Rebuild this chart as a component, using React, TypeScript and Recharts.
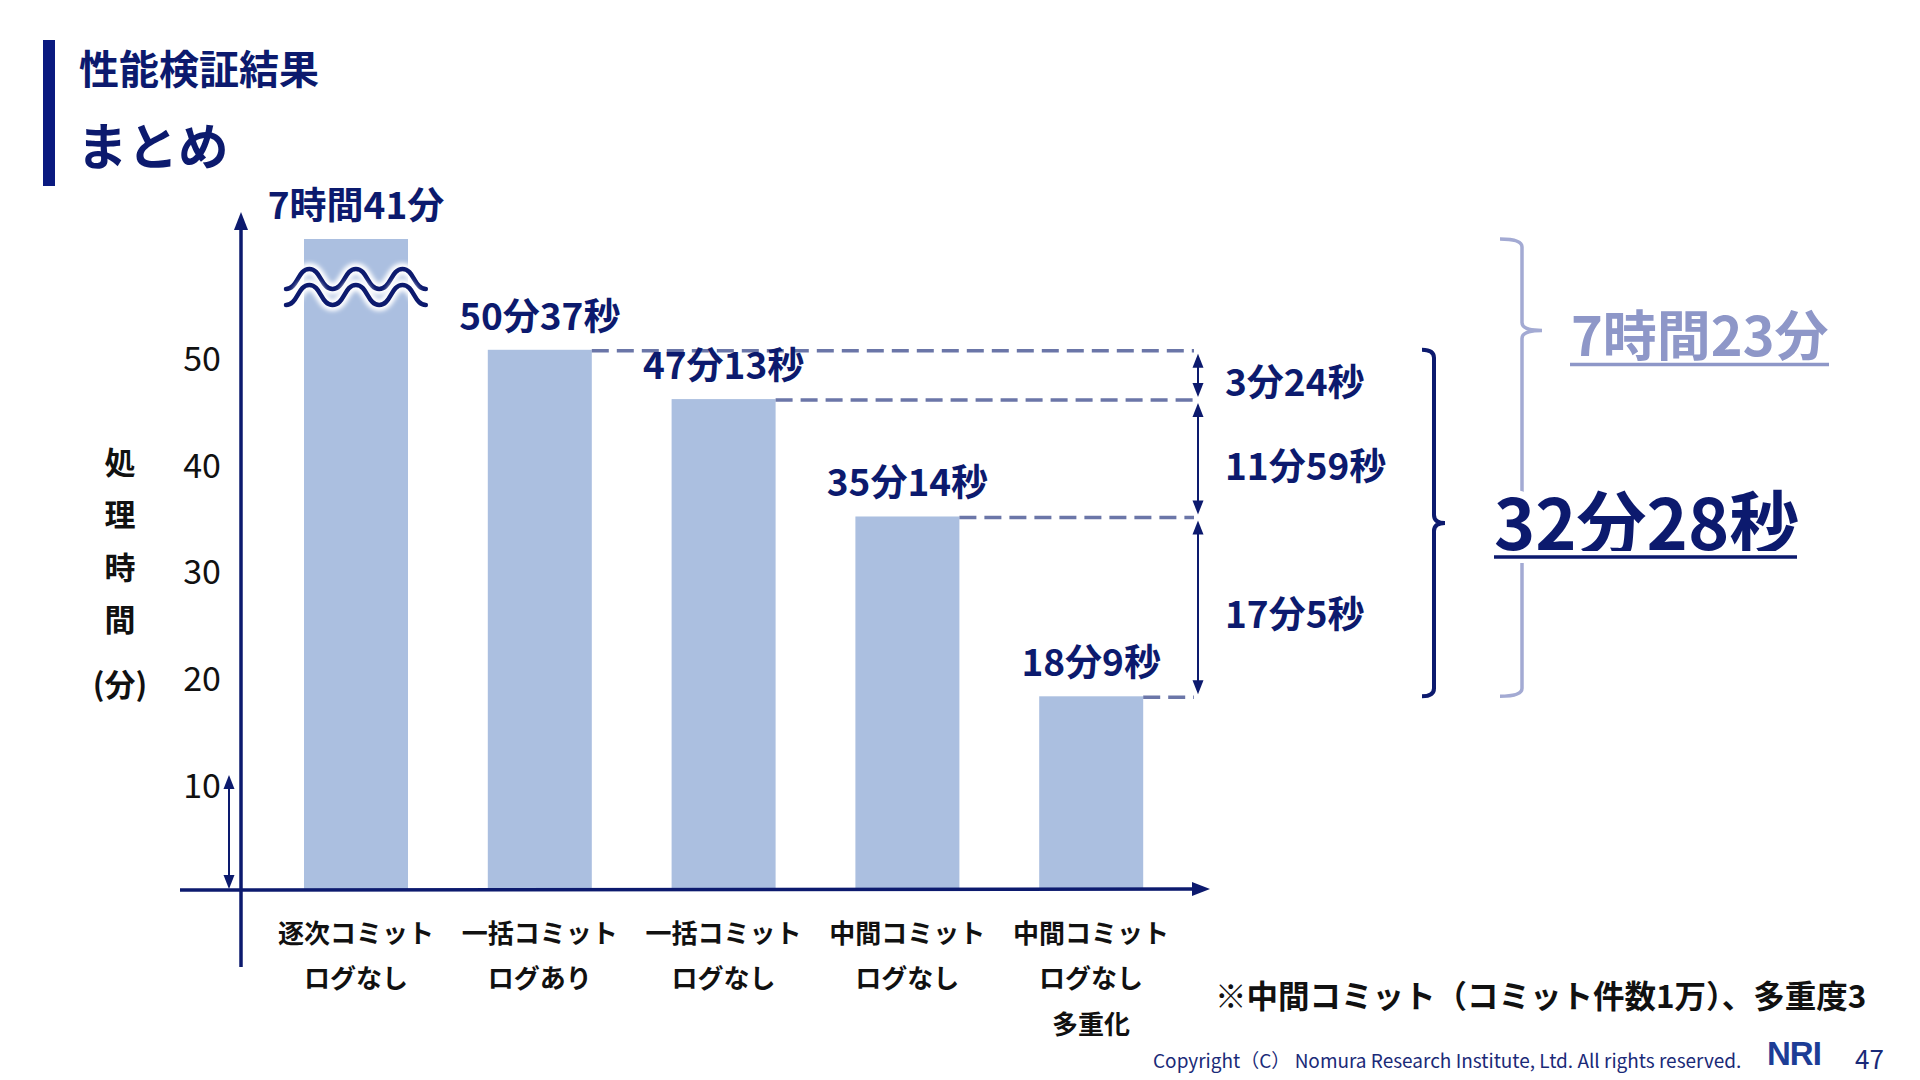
import React from 'react';
import { BarChart, Bar, XAxis, YAxis, LabelList } from 'recharts';

const categories = [
  '逐次コミット\nログなし',
  '一括コミット\nログあり',
  '一括コミット\nログなし',
  '中間コミット\nログなし',
  '中間コミット\nログなし\n多重化',
];
// minutes as printed on the slide
const actualMinutes = [461, 50.62, 47.22, 35.23, 18.15];
// bar heights as drawn on the slide (first bar is cut by the wave break)
const drawnMinutes = [61, 50.62, 46.0, 35.0, 18.15];
const valueLabels = ['7時間41分', '50分37秒', '47分13秒', '35分14秒', '18分9秒'];
const diffLabels = ['3分24秒', '11分59秒', '17分5秒'];
const totalLabels = ['7時間23分', '32分28秒'];
const yTicks = [10, 20, 30, 40, 50];

const data = categories.map((name, i) => ({
  name,
  value: drawnMinutes[i],
  actual: actualMinutes[i],
  label: valueLabels[i],
}));

const FONT = "'Noto Sans CJK JP', 'Noto Sans', sans-serif";
const NAVY = '#0c1a6e';
const BAR = '#abbfe0';
const DASH = '#6b76a8';
const LIGHT = '#8e97c8';
const ARROW_X = 1198;
const DARK_BRACKET_X = 1434;
const LIGHT_BRACKET_X = 1522;

const VArrow = ({ x, y1, y2, color = NAVY }: any) => {
  const hw = 5.5;
  const hl = 14;
  return (
    <g>
      <line x1={x} y1={y1 + hl - 1} x2={x} y2={y2 - hl + 1} stroke={color} strokeWidth={2} />
      <polygon points={`${x},${y1} ${x - hw},${y1 + hl} ${x + hw},${y1 + hl}`} fill={color} />
      <polygon points={`${x},${y2} ${x - hw},${y2 - hl} ${x + hw},${y2 - hl}`} fill={color} />
    </g>
  );
};

const wavePath = (x0: number, yT: number, amp: number, half: number, n: number) => {
  let d = `M ${x0} ${yT} C ${x0 + half / 2} ${yT} ${x0 + half / 2} ${yT - amp} ${x0 + half} ${yT - amp}`;
  for (let i = 2; i <= n; i++) {
    const yEnd = i % 2 === 0 ? yT : yT - amp;
    d += ` S ${x0 + half * (i - 0.5)} ${yEnd} ${x0 + half * i} ${yEnd}`;
  }
  return d;
};

const bracketPath = (bx: number, y1: number, y2: number, mid: number, hook: number, tick: number) =>
  `M ${bx - hook} ${y1} Q ${bx} ${y1} ${bx} ${y1 + 8} L ${bx} ${mid - 8} Q ${bx} ${mid} ${bx + tick} ${mid} ` +
  `Q ${bx} ${mid} ${bx} ${mid + 8} L ${bx} ${y2 - 8} Q ${bx} ${y2} ${bx - hook} ${y2}`;

const BarShape = (props: any) => {
  const { x, y, width, height, index } = props;
  const base = y + height;
  const k = height / drawnMinutes[index];
  const yOf = (v: number) => base - v * k;
  const cx = x + width / 2;

  return (
    <g>
      <rect x={x} y={y} width={width} height={height} fill={BAR} />
      {index === 0 && (
        <g>
          <defs>
            <filter id="glow" x="-20%" y="-50%" width="140%" height="200%">
              <feGaussianBlur stdDeviation="2" />
            </filter>
          </defs>
          {[0, 16].map((off) => (
            <g key={off}>
              <path d={wavePath(cx - 70, y + 50 + off, 20, 23.3, 6)} fill="none" stroke="#fff" strokeWidth={12} filter="url(#glow)" />
              <path d={wavePath(cx - 70, y + 50 + off, 20, 23.3, 6)} fill="none" stroke={NAVY} strokeWidth={4.5} strokeLinecap="round" />
            </g>
          ))}
        </g>
      )}
      {index >= 1 && (
        <line x1={x + width} y1={y + 1} x2={ARROW_X - 4} y2={y + 1} stroke={DASH} strokeWidth={3.5} strokeDasharray="17 8" />
      )}
      {index >= 2 && (
        <g>
          <VArrow x={ARROW_X} y1={yOf(drawnMinutes[index - 1]) + 4} y2={y - 2} />
          <text
            x={1225}
            y={(yOf(drawnMinutes[index - 1]) + y) / 2 + 6}
            fontSize={37}
            fontWeight={700}
            fill={NAVY}
            fontFamily={FONT}
            dominantBaseline="central"
          >
            {diffLabels[index - 2]}
          </text>
        </g>
      )}
      {index === 4 && (() => {
        const lTop = yOf(drawnMinutes[0]);
        const lMid = lTop + (y - lTop) * 0.2;
        const dTop = yOf(drawnMinutes[1]);
        const dMid = (dTop + y) / 2;
        return (
          <g>
            <path d={bracketPath(LIGHT_BRACKET_X, lTop, y, lMid, 22, 20)} fill="none" stroke="#a3aad3" strokeWidth={3.5} />
            <text x={1571} y={lMid + 2} fontSize={54} fontWeight={700} fill={LIGHT} fontFamily={FONT} dominantBaseline="central">
              {totalLabels[0]}
            </text>
            <line x1={1570} y1={lMid + 34} x2={1829} y2={lMid + 34} stroke={LIGHT} strokeWidth={3.5} />
            <path d={bracketPath(DARK_BRACKET_X, dTop, y, dMid, 12, 11)} fill="none" stroke={NAVY} strokeWidth={4} />
            <text
              x={1494}
              y={dMid - 4}
              fontSize={70}
              fontWeight={700}
              fill={NAVY}
              fontFamily={FONT}
              dominantBaseline="central"
              stroke="#fff"
              strokeWidth={14}
              paintOrder="stroke"
              strokeLinejoin="round"
            >
              {totalLabels[1]}
            </text>
            <line x1={1494} y1={dMid + 34} x2={1797} y2={dMid + 34} stroke="#fff" strokeWidth={12} />
            <line x1={1494} y1={dMid + 34} x2={1797} y2={dMid + 34} stroke={NAVY} strokeWidth={3.5} />
          </g>
        );
      })()}
    </g>
  );
};

const ValueLabel = (props: any) => {
  const { x, y, width, value } = props;
  return (
    <text
      x={x + width / 2}
      y={y - 36}
      textAnchor="middle"
      dominantBaseline="central"
      fontSize={37}
      fontWeight={700}
      fill={NAVY}
      fontFamily={FONT}
    >
      {value}
    </text>
  );
};

const XTick = (props: any) => {
  const { x, y, payload } = props;
  const lines = String(payload.value).split('\n');
  return (
    <g>
      {lines.map((t, i) => (
        <text
          key={i}
          x={x}
          y={y + 41 + i * 45.5}
          textAnchor="middle"
          dominantBaseline="central"
          fontSize={26}
          fontWeight={700}
          fill="#111"
          fontFamily={FONT}
        >
          {t}
        </text>
      ))}
    </g>
  );
};

const YTick = (props: any) => {
  const { x, y, payload } = props;
  return (
    <text x={x - 62} y={y} textAnchor="middle" dominantBaseline="central" fontSize={34} fill="#111" fontFamily={FONT}>
      {payload.value}
    </text>
  );
};

const yLabelChars = ['処', '理', '時', '間'];

export default function App() {
  return (
    <div style={{ position: 'absolute', left: 0, top: 0, width: 1920, height: 1080, background: '#fff', overflow: 'hidden' }}>
      <BarChart
        width={1920}
        height={1080}
        data={data}
        margin={{ top: 207, right: 737, bottom: 40, left: 204 }}
        style={{ position: 'absolute', left: 0, top: 0 }}
      >
        <XAxis dataKey="name" height={150} tickSize={0} tickMargin={0} axisLine={false} tickLine={false} tick={<XTick />} interval={0} />
        <YAxis
          width={60}
          domain={[0, 64]}
          ticks={yTicks}
          tickSize={0}
          tickMargin={0}
          axisLine={false}
          tickLine={false}
          tick={<YTick />}
        />
        <Bar dataKey="value" barSize={104} isAnimationActive={false} shape={<BarShape />}>
          <LabelList dataKey="label" content={<ValueLabel />} />
        </Bar>
      </BarChart>

      <svg width={1920} height={1080} style={{ position: 'absolute', left: 0, top: 0, pointerEvents: 'none' }}>
        {/* title */}
        <rect x={43} y={40} width={12} height={146} fill="#0a1a80" />
        <text x={79} y={67} fontSize={40} fontWeight={700} fill={NAVY} fontFamily={FONT} dominantBaseline="central">
          性能検証結果
        </text>
        <text x={77} y={143} fontSize={50.5} fontWeight={700} fill={NAVY} fontFamily={FONT} dominantBaseline="central">
          まとめ
        </text>

        {/* axes */}
        <line x1={241} y1={967} x2={241} y2={224} stroke={NAVY} strokeWidth={3.5} />
        <polygon points="241,212 234,230 248,230" fill={NAVY} />
        <line x1={180} y1={890} x2={1198} y2={889} stroke={NAVY} strokeWidth={3.5} />
        <polygon points="1210,889 1192,882 1192,896" fill={NAVY} />
        <VArrow x={229} y1={775} y2={889} />

        {/* y label */}
        {yLabelChars.map((c, i) => (
          <text key={c} x={120} y={460 + i * 52.5} textAnchor="middle" dominantBaseline="central" fontSize={31} fontWeight={700} fill="#111" fontFamily={FONT}>
            {c}
          </text>
        ))}
        <text x={120} y={682} textAnchor="middle" dominantBaseline="central" fontSize={31} fontWeight={700} fill="#111" fontFamily={FONT}>
          (分)
        </text>

        {/* notes */}
        <text x={1215} y={994} fontSize={31.5} fontWeight={700} fill="#111" fontFamily={FONT} dominantBaseline="central">
          ※中間コミット（コミット件数1万）、多重度3
        </text>
        <text x={1153} y={1059} fontSize={19} fill="#1a2a78" fontFamily={FONT} dominantBaseline="central">
          Copyright（C） Nomura Research Institute, Ltd. All rights reserved.
        </text>
        <text x={1767} y={1053} fontSize={33} fontWeight={900} fill="#1d3d96" fontFamily="'Liberation Sans', sans-serif" dominantBaseline="central" letterSpacing={-1}>
          NRI
        </text>
        <text x={1855} y={1057} fontSize={26} fill="#1a2a78" fontFamily={FONT} dominantBaseline="central">
          47
        </text>
      </svg>
    </div>
  );
}
